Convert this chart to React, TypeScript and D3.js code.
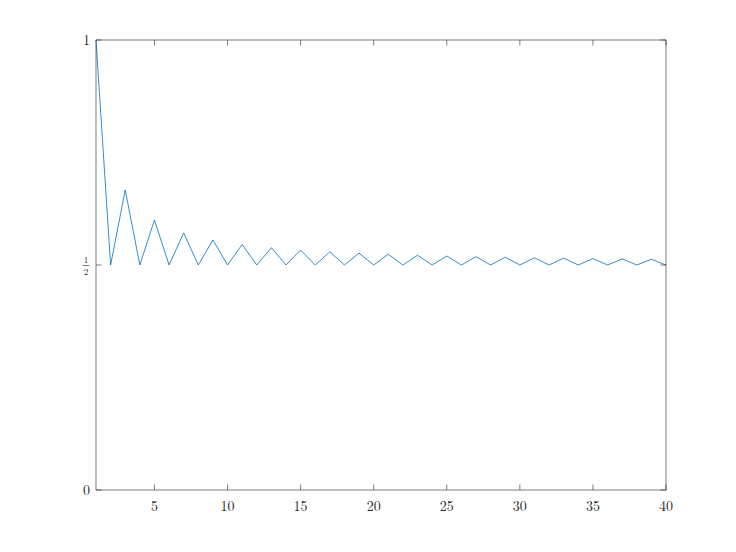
import { useEffect, useRef } from "react";
import * as d3 from "d3";

// n = 1..40
const nValues = d3.range(1, 41);
const yValues = [
  1, 0.5, 0.6667, 0.5, 0.6, 0.5, 0.5714, 0.5, 0.5556, 0.5,
  0.5455, 0.5, 0.5385, 0.5, 0.5333, 0.5, 0.5294, 0.5, 0.5263, 0.5,
  0.5238, 0.5, 0.5217, 0.5, 0.52, 0.5, 0.5185, 0.5, 0.5172, 0.5,
  0.5161, 0.5, 0.5152, 0.5, 0.5143, 0.5, 0.5135, 0.5, 0.5128, 0.5,
];
const xTicks = [5, 10, 15, 20, 25, 30, 35, 40];
const yTicks = [0, 0.5, 1];

export default function App() {
  const svgRef = useRef<SVGSVGElement>(null);

  useEffect(() => {
    if (!svgRef.current) return;
    const svg = d3.select(svgRef.current);
    svg.selectAll("*").remove();

    const totalWidth = 736;
    const totalHeight = 552;
    const margin = { top: 40, right: 70, bottom: 62, left: 96 };
    const width = totalWidth - margin.left - margin.right;
    const height = totalHeight - margin.top - margin.bottom;
    const font = "'Latin Modern Roman', 'DejaVu Serif', 'Liberation Serif', serif";
    const axisColor = "#262626";

    const g = svg.append("g").attr("transform", `translate(${margin.left},${margin.top})`);

    const x = d3.scaleLinear().domain([1, 40]).range([0, width]);
    const y = d3.scaleLinear().domain([0, 1]).range([height, 0]);

    // data line
    const line = d3.line<number>()
      .x((_, i) => x(nValues[i]))
      .y(d => y(d));

    g.append("path")
      .datum(yValues)
      .attr("fill", "none")
      .attr("stroke", "#0072BD")
      .attr("stroke-width", 0.8)
      .attr("d", line);

    // box
    g.append("rect")
      .attr("x", 0).attr("y", 0)
      .attr("width", width).attr("height", height)
      .attr("fill", "none")
      .attr("stroke", axisColor)
      .attr("stroke-width", 0.6);

    const tickLen = 5.5;

    // x ticks (bottom and top, inward)
    for (const t of xTicks) {
      const tx = x(t);
      g.append("line")
        .attr("x1", tx).attr("x2", tx)
        .attr("y1", height).attr("y2", height - tickLen)
        .attr("stroke", axisColor).attr("stroke-width", 0.6);
      g.append("line")
        .attr("x1", tx).attr("x2", tx)
        .attr("y1", 0).attr("y2", tickLen)
        .attr("stroke", axisColor).attr("stroke-width", 0.6);
      g.append("text")
        .attr("x", tx)
        .attr("y", height + 21)
        .attr("text-anchor", "middle")
        .attr("font-family", font)
        .attr("font-size", 14)
        .attr("fill", axisColor)
        .text(String(t));
    }

    // y ticks (left and right, inward)
    for (const t of yTicks) {
      const ty = y(t);
      g.append("line")
        .attr("x1", 0).attr("x2", tickLen)
        .attr("y1", ty).attr("y2", ty)
        .attr("stroke", axisColor).attr("stroke-width", 0.6);
      g.append("line")
        .attr("x1", width).attr("x2", width - tickLen)
        .attr("y1", ty).attr("y2", ty)
        .attr("stroke", axisColor).attr("stroke-width", 0.6);

      if (t === 0.5) {
        // stacked fraction ½
        const cx = -10;
        g.append("text")
          .attr("x", cx).attr("y", ty - 2)
          .attr("text-anchor", "middle")
          .attr("font-family", font)
          .attr("font-size", 9)
          .attr("fill", axisColor)
          .text("1");
        g.append("line")
          .attr("x1", cx - 3.5).attr("x2", cx + 3.5)
          .attr("y1", ty + 0.5).attr("y2", ty + 0.5)
          .attr("stroke", axisColor).attr("stroke-width", 0.6);
        g.append("text")
          .attr("x", cx).attr("y", ty + 10)
          .attr("text-anchor", "middle")
          .attr("font-family", font)
          .attr("font-size", 9)
          .attr("fill", axisColor)
          .text("2");
      } else {
        g.append("text")
          .attr("x", -6)
          .attr("y", ty + 5)
          .attr("text-anchor", "end")
          .attr("font-family", font)
          .attr("font-size", 14)
          .attr("fill", axisColor)
          .text(String(t));
      }
    }
  }, []);

  return (
    <svg
      ref={svgRef}
      width={736}
      height={552}
      style={{ position: "absolute", left: 0, top: 0, background: "#fff" }}
    />
  );
}
